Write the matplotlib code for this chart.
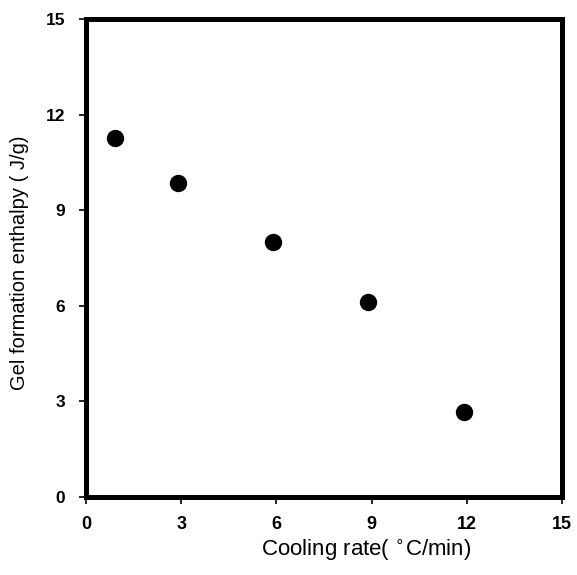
import matplotlib.pyplot as plt

cooling_rate = [0.9, 2.9, 5.9, 8.9, 11.9]
enthalpy = [11.25, 9.85, 8.0, 6.1, 2.65]
ticks = [0, 3, 6, 9, 12, 15]

plt.rcParams['font.family'] = ['Liberation Sans', 'DejaVu Sans']

fig = plt.figure(figsize=(5.77, 5.75), dpi=100)
ax = fig.add_axes([0.149, 0.136, 0.825, 0.831])

ax.plot(cooling_rate, enthalpy, 'o', color='black', markersize=11.5)

ax.set_xlim(0, 15)
ax.set_ylim(0, 15)
ax.set_xticks(ticks)
ax.set_yticks(ticks)
ax.tick_params(direction='out', length=5, width=1.2)
ax.tick_params(axis='x', labelsize=13, pad=9)
ax.tick_params(axis='y', labelsize=12.5, pad=10)
for lbl in ax.get_xticklabels() + ax.get_yticklabels():
    lbl.set_fontweight('bold')

for sp in ax.spines.values():
    sp.set_linewidth(3.6)

ax.set_xlabel('Cooling rate( $^{\\circ}$C/min)', fontsize=16)
ax.set_ylabel('Gel formation enthalpy ( J/g)', fontsize=14.5)
ax.xaxis.set_label_coords(0.588, -0.085)
ax.yaxis.set_label_coords(-0.12, 0.49)

fig.savefig('out.png', dpi=100)
